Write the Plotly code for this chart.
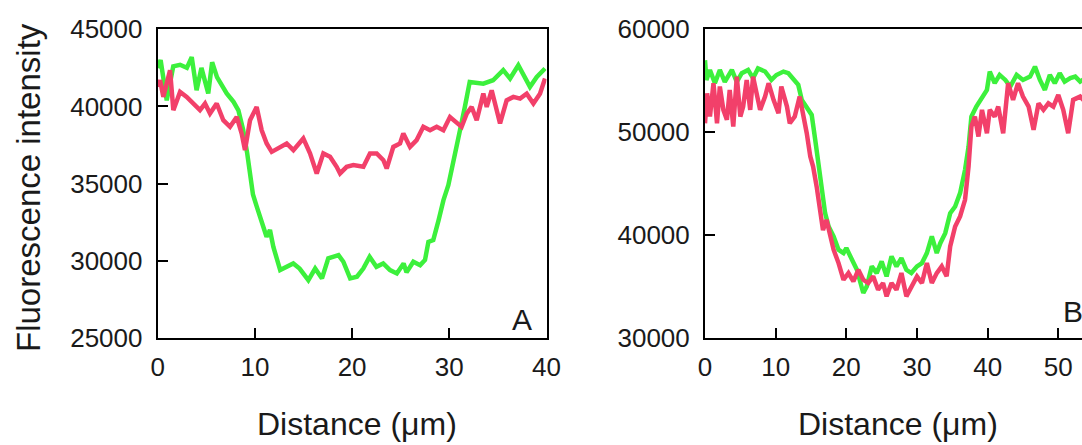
import plotly.graph_objects as go

# ---------------- Panel A data ----------------
a_green_x = [0, 0.3, 0.93, 1.6, 2.3, 3.0, 3.5, 4.0, 4.5, 5.2, 5.6, 6.1, 7.1, 7.8, 8.3, 8.8, 9.2,
             9.5, 9.8, 10.2, 10.9, 11.2, 11.55, 11.9, 12.6, 13.3, 13.95, 14.6, 15.5, 16.2, 16.9,
             17.55, 18.6, 19.1, 19.8, 20.5, 21.15, 21.8, 22.5, 23.2, 23.9, 24.6, 25.3, 25.6, 26.3,
             27.0, 27.5, 27.85, 28.35, 28.9, 29.4, 29.9, 30.4, 31.1, 31.6, 32.1, 33.5, 34.5, 35.55,
             36.25, 37.1, 37.6, 38.3, 39.0, 39.85]
a_green_y = [42500, 43000, 40400, 42600, 42700, 42500, 43200, 41050, 42500, 40850, 42870, 41900,
             40850, 40300, 39750, 38460, 37000, 35400, 34300, 33500, 32200, 31560, 32000, 30900,
             29400, 29600, 29830, 29500, 28750, 29500, 28860, 30160, 30370, 29940, 28860, 28970,
             29500, 30260, 29610, 29830, 29400, 29180, 29830, 29250, 29940, 29720, 30050, 31230,
             31340, 32640, 33930, 34900, 36520, 38460, 39970, 41590, 41480, 41700, 42350, 41810,
             42670, 42130, 41270, 41910, 42460]

a_red_x = [0, 0.24, 0.58, 1.27, 1.61, 2.30, 2.98, 3.67, 4.35, 4.87, 5.38, 6.07, 6.75, 7.44, 8.13,
           8.64, 8.98, 9.50, 10.18, 10.70, 11.21, 11.73, 12.58, 13.27, 13.96, 14.98, 15.67, 16.36,
           17.04, 17.73, 18.41, 18.76, 19.44, 20.13, 21.16, 21.84, 22.53, 23.22, 23.56, 24.24,
           24.93, 25.27, 25.96, 26.64, 27.33, 28.02, 28.70, 29.39, 30.07, 30.76, 31.27, 31.79,
           32.30, 32.82, 33.50, 33.85, 34.36, 35.22, 35.90, 36.59, 37.28, 37.96, 38.65, 39.33, 39.85]
a_red_y = [41270, 41700, 40620, 42350, 39760, 40940, 40620, 40190, 39760, 40190, 39540, 40190,
           39110, 38680, 39320, 38250, 37170, 39110, 39970, 38460, 37600, 37060, 37380, 37600,
           37170, 37930, 36960, 35660, 36960, 36740, 36090, 35660, 36090, 36200, 36090, 36960,
           36960, 36520, 35980, 37380, 37600, 38250, 37380, 37820, 38680, 38460, 38680, 38460,
           39320, 38900, 38680, 39540, 39970, 39110, 40830, 39970, 41050, 38900, 40400, 40620,
           40510, 40830, 40190, 40830, 41810]

# ---------------- Panel B data ----------------
b_green_x = [0, 0.2, 0.7, 1.4, 2.1, 2.8, 3.8, 4.5, 5.2, 6.1, 6.8, 7.5, 8.5, 9.4, 10.1, 11.1, 11.8,
             12.5, 13.2, 13.7, 14.4, 15.1, 15.6, 16.0, 16.5, 17.0, 17.5, 18.2, 18.9, 19.6, 20.0,
             20.8, 21.5, 22.4, 22.9, 23.6, 24.3, 25.0, 25.7, 26.4, 27.1, 27.8, 28.5, 29.2, 30.0,
             30.7, 31.4, 32.1, 32.8, 33.3, 34.0, 34.7, 35.4, 36.1, 36.8, 37.3, 37.7, 38.4, 39.2,
             39.9, 40.3, 41.0, 41.7, 42.5, 43.2, 44.1, 45.0, 46.0, 46.7, 47.4, 48.1, 48.8, 49.5,
             50.2, 50.9, 51.7, 52.4, 53.1, 54.0]
b_green_y = [57000, 55080, 56050, 54760, 56050, 54900, 56050, 54900, 55730, 56050, 55250, 56200,
             55900, 55080, 55560, 55890, 55730, 55080, 54600, 53140, 52490, 51680, 49250, 46990,
             44720, 42130, 40840, 39870, 38580, 38250, 38740, 37600, 36630, 34370, 35020, 36960,
             36310, 37440, 35990, 37930, 36960, 37770, 36630, 36310, 36960, 37280, 38250, 39870,
             38250, 39220, 40190, 42130, 42780, 44080, 46340, 48600, 51520, 52490, 53460, 54110,
             55890, 54760, 55570, 55080, 54440, 55570, 55080, 55400, 56370, 55080, 54110, 55570,
             54760, 55730, 54920, 55250, 55400, 54920, 55300]

b_red_x = [0, 0.3, 0.7, 1.2, 1.7, 2.1, 2.6, 3.1, 3.5, 4.0, 4.5, 5.0, 5.4, 5.9, 6.4, 6.8, 7.3, 7.8,
           8.5, 9.0, 9.7, 10.4, 10.8, 11.6, 12.0, 12.7, 13.4, 13.9, 14.4, 14.9, 15.3, 15.8, 16.3,
           16.7, 17.2, 17.7, 18.2, 18.9, 19.6, 20.3, 21.0, 21.7, 22.4, 23.1, 23.8, 24.5, 25.2,
           25.7, 26.4, 27.1, 27.8, 28.5, 29.2, 30.0, 30.7, 31.4, 32.1, 32.8, 33.5, 34.2, 34.7,
           35.4, 36.1, 36.8, 37.3, 37.7, 38.2, 38.7, 39.2, 39.9, 40.3, 41.0, 41.5, 42.2, 42.9,
           43.6, 44.3, 45.0, 45.8, 46.5, 47.2, 47.9, 48.6, 49.3, 50.0, 50.7, 51.4, 52.1, 53.1, 54.0]
b_red_y = [50870, 53780, 51520, 54760, 50870, 54440, 52170, 51200, 54110, 50550, 55400, 51520,
           52490, 55080, 52170, 55400, 53780, 52170, 53460, 54760, 53140, 51840, 54440, 52490,
           50870, 51520, 53460, 51840, 49900, 47640, 46660, 44720, 42130, 40490, 41480, 40190,
           38580, 37280, 35660, 36310, 35500, 36630, 35660, 35340, 35990, 34690, 35340, 34050,
           35340, 34690, 36310, 34050, 35020, 35990, 35340, 37280, 35340, 36310, 36960, 35990,
           38900, 40840, 41810, 43430, 46660, 50550, 51520, 49580, 52170, 49900, 52170, 51520,
           52490, 49900, 54760, 53140, 54760, 53460, 52490, 50230, 52810, 52170, 52810, 52490,
           53620, 52170, 49900, 53140, 53460, 52800]

a_xticks = [0, 10, 20, 30, 40]
a_yticks = [25000, 30000, 35000, 40000, 45000]
b_xticks = [0, 10, 20, 30, 40, 50]
b_yticks = [30000, 40000, 50000, 60000]

GREEN = "#3cf03c"
RED = "#f2406a"
FONT = "Liberation Sans"
INK = "#1a1a1a"

W, H = 1082, 445
def px(x):
    return x / W
def py(y):
    return (H - y) / H

fig = go.Figure()
lw = 4.5
fig.add_trace(go.Scatter(x=a_green_x, y=a_green_y, mode="lines", line=dict(color=GREEN, width=lw),
                         xaxis="x", yaxis="y", showlegend=False))
fig.add_trace(go.Scatter(x=a_red_x, y=a_red_y, mode="lines", line=dict(color=RED, width=lw),
                         xaxis="x", yaxis="y", showlegend=False))
fig.add_trace(go.Scatter(x=b_green_x, y=b_green_y, mode="lines", line=dict(color=GREEN, width=lw),
                         xaxis="x2", yaxis="y2", showlegend=False))
fig.add_trace(go.Scatter(x=b_red_x, y=b_red_y, mode="lines", line=dict(color=RED, width=lw),
                         xaxis="x2", yaxis="y2", showlegend=False))

ydom = [py(338), py(29.3)]
tickfont = dict(family=FONT, size=26, color=INK)
common = dict(showgrid=False, zeroline=False, showline=True, linecolor="black", linewidth=2,
              ticks="inside", ticklen=10, tickwidth=2, tickcolor="black", tickfont=tickfont,
              tickformat="d", automargin=False)

fig.update_layout(
    template="none",
    width=W, height=H,
    margin=dict(l=0, r=0, t=0, b=0, pad=0, autoexpand=False),
    paper_bgcolor="white", plot_bgcolor="white",
    xaxis=dict(domain=[px(157.7), px(546.5)], range=[0, 40], tickvals=a_xticks, anchor="y",
               mirror=True, ticklabelstandoff=5, **common),
    yaxis=dict(domain=ydom, range=[25000, 45000], tickvals=a_yticks, anchor="x",
               mirror=True, ticklabelstandoff=8, **common),
    xaxis2=dict(domain=[px(705), 1.0], range=[0, (W - 705) / 7.066], tickvals=b_xticks, anchor="y2",
                mirror=True, ticklabelstandoff=5, **common),
    yaxis2=dict(domain=ydom, range=[30000, 60000], tickvals=b_yticks, anchor="x2",
                mirror=False, ticklabelstandoff=8, **common),
)

titlefont = dict(family=FONT, size=32, color=INK)
fig.add_annotation(text="Fluorescence intensity", textangle=-90, xref="paper", yref="paper",
                   x=px(29), y=py(188), xanchor="center", yanchor="middle", showarrow=False,
                   font=dict(family=FONT, size=33, color=INK))
fig.add_annotation(text="Distance (μm)", xref="paper", yref="paper", x=px(357), y=py(424),
                   xanchor="center", yanchor="middle", showarrow=False, font=titlefont)
fig.add_annotation(text="Distance (μm)", xref="paper", yref="paper", x=px(898), y=py(424),
                   xanchor="center", yanchor="middle", showarrow=False, font=titlefont)
fig.add_annotation(text="A", xref="paper", yref="paper", x=px(534), y=py(319),
                   xanchor="right", yanchor="middle", showarrow=False,
                   font=dict(family=FONT, size=30, color=INK))
fig.add_annotation(text="B", xref="paper", yref="paper", x=px(1061), y=py(311),
                   xanchor="left", yanchor="middle", showarrow=False,
                   font=dict(family=FONT, size=30, color=INK))

fig.write_html("out.html", config={"displayModeBar": False, "responsive": False},
               post_script="document.body.style.margin='0';document.body.style.overflow='hidden';")
